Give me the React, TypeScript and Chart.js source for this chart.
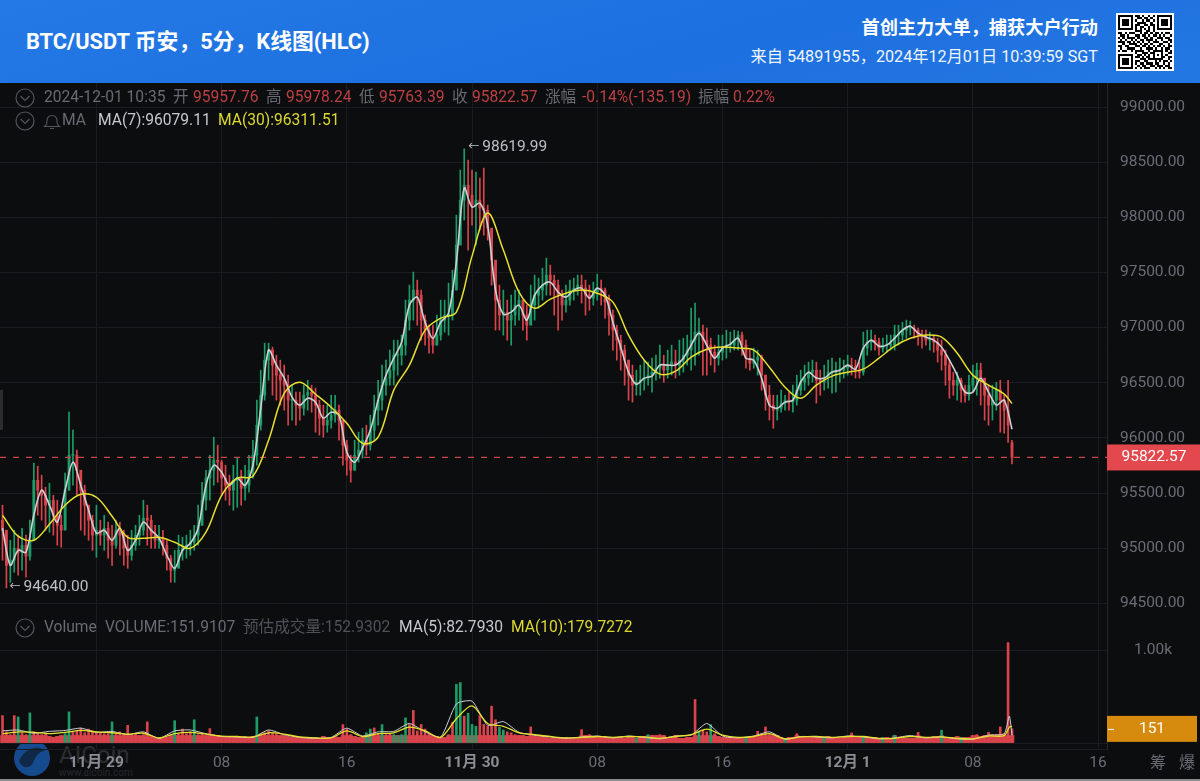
import React, { useEffect, useRef } from "react";
import { Chart, registerables } from "chart.js";

Chart.register(...registerables);

// ---------- data ----------
const firstCandleHour = -6; // hours since 11-29 00:00
const candleStepHours = 0.25;

const candleOpen = [
95254,95163,94845,94891,95000,94963,95027,94927,95072,95616,95526,95480,95390,95435,95299,95208,95163,95526,95843,95843,
95707,95526,95390,95254,95118,95163,95118,95181,95072,95027,95163,95118,95000,94936,95027,95118,95163,95272,95254,95118,
95072,95090,95027,94909,94800,94818,94981,95000,95027,95054,95118,95208,95435,95635,95707,95798,95780,95635,95571,95526,
95616,95635,95544,95571,95707,95843,96115,96387,96705,96796,96660,96569,96523,96478,96342,96342,96297,96269,96387,96415,
96387,96297,96179,96115,96161,96206,96251,96161,95934,95798,95707,95843,95889,95979,95934,96070,96251,96342,96478,96542,
96614,96750,96750,96841,97068,97249,97340,97294,97068,96977,96904,96841,96932,97068,97113,97113,97340,97748,98156,98292,
98201,98111,98156,98083,98065,97902,97612,97249,97113,97140,97068,97113,97204,97249,97113,97022,97204,97294,97340,97385,
97476,97430,97385,97294,97204,97249,97340,97358,97385,97358,97294,97267,97322,97358,97340,97231,97113,96977,96886,96796,
96705,96569,96478,96505,96523,96542,96569,96596,96632,96660,96614,96660,96687,96660,96705,96750,96796,96886,96959,96959,
96886,96841,96777,96723,96777,96814,96841,96841,96886,96932,96841,96723,96678,96705,96732,96569,96387,96297,96251,96269,
96315,96342,96324,96342,96433,96505,96542,96596,96614,96523,96505,96542,96596,96596,96614,96614,96632,96660,96650,96614,
96596,96814,96868,96886,96868,96814,96841,96841,96841,96932,96932,96977,96995,96995,96977,96932,96914,96886,96904,96868,
96796,96750,96660,96523,96478,96523,96433,96387,96478,96542,96614,96542,96387,96297,96342,96433,96342,96251,95957.76];

const candleClose = [
95163,94845,94891,95000,94963,95027,94927,95072,95616,95526,95480,95390,95435,95299,95208,95163,95526,95843,95843,95707,
95526,95390,95254,95118,95163,95118,95181,95072,95027,95163,95118,95000,94936,95027,95118,95163,95272,95254,95118,95072,
95090,95027,94909,94800,94818,94981,95000,95027,95054,95118,95208,95435,95635,95707,95798,95780,95635,95571,95526,95616,
95635,95544,95571,95707,95843,96115,96387,96705,96796,96660,96569,96523,96478,96342,96342,96297,96269,96387,96415,96387,
96297,96179,96115,96161,96206,96251,96161,95934,95798,95707,95843,95889,95979,95934,96070,96251,96342,96478,96542,96614,
96750,96750,96841,97068,97249,97340,97294,97068,96977,96904,96841,96932,97068,97113,97113,97340,97748,98156,98292,98201,
98111,98156,98083,98065,97902,97612,97249,97113,97140,97068,97113,97204,97249,97113,97022,97204,97294,97340,97385,97476,
97430,97385,97294,97204,97249,97340,97358,97385,97358,97294,97267,97322,97358,97340,97231,97113,96977,96886,96796,96705,
96569,96478,96505,96523,96542,96569,96596,96632,96660,96614,96660,96687,96660,96705,96750,96796,96886,96959,96959,96886,
96841,96777,96723,96777,96814,96841,96841,96886,96932,96841,96723,96678,96705,96732,96569,96387,96297,96251,96269,96315,
96342,96324,96342,96433,96505,96542,96596,96614,96523,96505,96542,96596,96596,96614,96614,96632,96660,96650,96614,96596,
96814,96868,96886,96868,96814,96841,96841,96841,96932,96932,96977,96995,96995,96977,96932,96914,96886,96904,96868,96796,
96750,96660,96523,96478,96523,96433,96387,96478,96542,96614,96542,96387,96297,96342,96433,96342,96251,96115,95822.57];

const candleHigh = [
95390,95118,95072,95163,95118,95181,95118,95254,95771,95743,95662,95553,95589,95480,95435,95299,95680,96233,96070,95889,
95644,95571,95344,95299,95390,95254,95299,95236,95208,95254,95236,95163,95118,95163,95208,95299,95435,95390,95299,95208,
95208,95163,95072,94936,94981,95118,95099,95118,95163,95208,95390,95598,95707,95843,96006,95934,95798,95752,95662,95752,
95816,95707,95752,95843,95979,96342,96614,96859,96859,96823,96750,96705,96660,96569,96478,96415,96415,96478,96523,96478,
96451,96342,96297,96297,96387,96387,96297,96115,95979,95843,95979,96052,96088,96115,96206,96387,96523,96660,96705,96796,
96886,96886,96932,97249,97385,97503,97430,97340,97113,97022,97022,97113,97249,97249,97403,97521,98020,98428,98619.99,98519,
98428,98410,98356,98446,98111,97884,97566,97385,97340,97249,97294,97340,97340,97249,97204,97385,97476,97449,97539,97630,
97566,97476,97430,97340,97385,97430,97449,97476,97476,97430,97385,97412,97485,97430,97358,97294,97158,97022,96932,96841,
96705,96660,96614,96660,96705,96687,96723,96750,96841,96750,96796,96841,96796,96886,96904,96932,97176,97222,97086,97022,
96995,96904,96841,96932,96932,96977,96959,96977,96968,96959,96886,96796,96814,96796,96750,96569,96478,96387,96387,96433,
96387,96415,96478,96569,96614,96660,96687,96705,96687,96614,96660,96705,96723,96687,96723,96705,96750,96723,96705,96687,
96959,96977,96977,96932,96904,96904,96932,96932,97022,97022,97049,97068,97058,97022,96995,96977,96977,96959,96932,96904,
96886,96796,96705,96596,96596,96542,96478,96569,96660,96678,96678,96523,96478,96478,96505,96523,96387,96523,95978.24];

const candleLow = [
94891,94640,94691,94782,94755,94800,94737,94891,95163,95299,95254,95163,95145,95118,95027,95009,95208,95526,95571,95480,
95163,95118,95072,94981,94918,95027,94981,94909,94845,95000,94936,94845,94818,94891,94981,95027,95118,95027,95000,95000,
95000,94936,94800,94691,94691,94845,94891,94909,94936,94981,95027,95208,95344,95435,95571,95598,95480,95435,95390,95344,
95371,95390,95435,95508,95635,95752,96070,96342,96523,96387,96342,96297,96251,96115,96161,96115,96161,96206,96251,96233,
96052,96025,96006,96052,96088,96143,95979,95752,95662,95598,95707,95780,95816,95843,95889,95979,96115,96251,96387,96478,
96478,96569,96660,96750,96977,97068,97022,96886,96841,96768,96768,96841,96886,96959,96932,97068,97430,97793,97975,97703,
97929,97748,97884,97838,97793,97385,96977,96977,96932,96886,96841,97022,97068,96977,96886,97068,97068,97176,97249,97294,
97294,97113,96977,97068,97140,97204,97249,97294,97222,97113,97158,97204,97249,97204,97086,96932,96796,96705,96614,96478,
96342,96324,96387,96387,96433,96478,96415,96523,96542,96505,96542,96569,96542,96569,96596,96660,96614,96660,96750,96569,
96569,96660,96596,96660,96705,96723,96777,96796,96796,96750,96632,96614,96632,96569,96433,96251,96161,96088,96161,96233,
96251,96251,96233,96297,96387,96433,96478,96505,96315,96387,96433,96451,96406,96415,96505,96542,96569,96569,96542,96542,
96569,96750,96796,96796,96750,96777,96777,96796,96796,96841,96886,96904,96932,96904,96841,96814,96841,96796,96777,96687,
96614,96478,96360,96387,96342,96324,96324,96342,96415,96387,96297,96161,96115,96161,96251,96052,96043,95960,95763.39];

const volumeBars = [
295,120,90,295,280,110,90,324,120,100,90,100,70,60,70,80,100,335,120,130,
160,110,150,130,110,110,100,100,227,100,120,100,190,90,100,80,90,227,70,60,
50,50,60,80,240,100,150,100,120,250,90,100,80,155,90,80,70,60,70,60,
70,60,70,60,70,280,100,110,130,110,100,80,80,70,60,60,50,60,60,50,
60,50,70,60,50,70,60,198,150,90,70,60,60,110,150,162,100,198,90,100,
90,80,90,270,200,350,130,200,150,100,80,70,60,60,90,223,630,650,288,320,
200,180,295,200,180,396,250,170,140,120,110,90,80,80,70,173,90,70,70,60,
50,60,50,50,60,50,50,50,144,80,90,70,60,60,70,50,50,60,60,50,
70,60,50,60,70,90,80,80,90,80,60,60,80,50,50,60,60,468,130,140,
120,198,100,70,60,60,60,50,50,60,60,60,70,126,100,173,90,80,80,60,
50,60,60,100,70,70,60,60,60,60,60,70,60,60,50,60,60,108,70,70,
60,60,50,60,50,60,60,50,83,60,60,50,50,50,115,60,60,60,70,70,
137,60,60,60,70,60,60,60,80,90,70,80,115,90,90,173,100,1080,151.91];

const greenVolumeBars = [4,7,16,17,28,44,49,65,93,94,97,100,101,102,103,116,117,119,120,121,127,128,162,165,178,181,190,200,210,220,225,228,240,245];
const volumeFloorLevel = 80; // volume up to which bars read as a continuous band

const ma7StepHours = 0.5;
const ma7Values = [
95181,94845,94981,94963,95299,95526,95390,95236,95526,95780,95571,95344,95136,95163,95072,95181,94981,95072,95236,95163,
95090,94936,94818,94981,95045,95181,95571,95752,95689,95571,95635,95571,95752,96269,96796,96660,96542,96369,96297,96360,
96324,96179,96233,96206,95870,95780,95907,96070,96342,96569,96723,96868,97204,97276,97049,96904,97049,97131,97594,98265,
98092,98129,97929,97340,97122,97140,97204,97068,97294,97385,97412,97322,97276,97340,97358,97267,97358,97294,97049,96823,
96596,96487,96542,96560,96660,96660,96660,96723,96841,96950,96841,96723,96814,96850,96904,96723,96705,96542,96297,96269,
96324,96342,96505,96596,96542,96542,96596,96614,96660,96623,96814,96886,96832,96841,96904,96977,97013,96950,96914,96886,
96823,96705,96569,96415,96415,96542,96415,96297,96342,96079.11];

const ma30StepHours = 1;
const ma30Values = [
95299,95109,95072,95217,95390,95489,95462,95290,95099,95090,95099,95054,94999,95145,95480,95635,95653,95979,96406,96505,
96396,96278,96133,95952,96006,96433,96660,96977,97086,97140,97648,98038,97703,97322,97176,97258,97312,97340,97312,97231,
96932,96705,96578,96605,96732,96804,96823,96814,96796,96641,96460,96360,96478,96560,96596,96623,96723,96832,96904,96932,
96914,96768,96569,96478,96397];
const ma30LastHour = 58.5;
const ma30LastValue = 96311.51;

const volMaStepHours = 1;
const volMa10Values = [
100,120,115,100,115,135,120,110,95,105,55,100,115,95,75,70,65,110,95,65,
55,55,130,70,100,110,170,130,60,260,400,210,180,110,90,70,55,60,70,60,
70,65,50,70,90,150,85,60,70,100,45,65,70,60,70,70,50,50,70,60,
65,50,45,75,80];
const volMa5Values = [
130,140,105,125,135,160,115,125,90,120,50,130,140,100,70,65,60,140,90,60,
50,60,160,75,120,125,210,120,65,420,450,190,230,115,85,65,50,65,75,55,
75,60,45,75,85,210,75,55,75,120,40,70,65,55,75,65,45,55,80,55,
65,45,40,85,100];
const volMaTailHours = [58.33, 58.5];
const volMa10Tail = [170, 179.73];
const volMa5Tail = [290, 82.79];

const lastPrice = 95822.57;
const lastVolume = 151.91;
const priceTickValues = [94500, 95000, 95500, 96000, 96500, 97000, 97500, 98000, 98500, 99000];
const dateTickLabels: Record<number, string> = { 0: "11月 29", 24: "11月 30", 48: "12月 1" };
const timeTickHours = [0, 8, 16, 24, 32, 40, 48, 56, 64];
const timeTickLabels = ["11月 29", "08", "16", "11月 30", "08", "16", "12月 1", "08", "16"];
const qrRows = [
"1111111011010010101111111",
"1000001001101101001000001",
"1011101010010110101011101",
"1011101001111001001011101",
"1011101011001101101011101",
"1000001010110010101000001",
"1111111010101010101111111",
"0000000011100110100000000",
"1101011100101101011010110",
"0110100011011010110101001",
"1010111101001101001110110",
"0101001010110111010010011",
"1110110101010010111001101",
"0010011110101101000110010",
"1101100011011010101101011",
"0100111100100111010010110",
"1011001011110010111110101",
"0000000010011101100010011",
"1111111001101010101010100",
"1000001011010110100011011",
"1011101000111011111110010",
"1011101011001100010101101",
"1011101010110111011001010",
"1000001001011001101110110",
"1111111010101110010101011"];

// ---------- styling ----------
const BG = "#0c0d0f";
const GRID = "#1b1c1f";
const AXIS_TEXT = "#6a6d75";
const UP = "#1d9c68";
const DOWN = "#d9434b";
const RED_TEXT = "#bd4045";
const YELLOW = "#e6e02f";
const WHITE_LINE = "#cfd0d5";
const XMIN = -6.16;
const XMAX = 64.57;
const FONT = "Roboto, 'Noto Sans CJK SC', sans-serif";

const candleHour = (i: number) => firstCandleHour + i * candleStepHours;

const priceTagPlugin = {
  id: "priceTags",
  afterDatasetsDraw(chart: any) {
    const { ctx, scales } = chart;
    const x = scales.x, y = scales.y;
    ctx.save();
    ctx.textBaseline = "middle";
    ctx.textAlign = "left";
    ctx.fillStyle = "#bfc0c4";
    const hiIdx = candleHigh.indexOf(Math.max(...candleHigh));
    const loIdx = candleLow.indexOf(Math.min(...candleLow));
    const tag = (idx: number, value: number, dy: number, arrowX: number) => {
      const px = x.getPixelForValue(candleHour(idx));
      const py = y.getPixelForValue(value) + dy;
      ctx.font = `11px ${FONT}`;
      ctx.fillText("←", px + arrowX, py);
      ctx.font = `15.5px ${FONT}`;
      ctx.fillText(value.toFixed(2), px + arrowX + 14, py);
    };
    tag(hiIdx, candleHigh[hiIdx], -2, 4);
    tag(loIdx, candleLow[loIdx], -1, 3);
    const py = y.getPixelForValue(lastPrice);
    ctx.fillStyle = "#e2484d";
    ctx.fillRect(1107, py - 13, 93, 26);
    ctx.fillStyle = "#ffffff";
    ctx.textAlign = "center";
    ctx.font = `15.5px ${FONT}`;
    ctx.fillText(lastPrice.toFixed(2), 1154, py);
    ctx.restore();
  },
};

const volumeTagPlugin = {
  id: "volumeTag",
  afterDatasetsDraw(chart: any) {
    const { ctx, scales } = chart;
    const py = scales.y.getPixelForValue(lastVolume);
    ctx.save();
    ctx.fillStyle = "#d68a0e";
    ctx.fillRect(1107, py - 13, 90, 26);
    ctx.fillStyle = "#ffffff";
    ctx.font = `15.5px ${FONT}`;
    ctx.textBaseline = "middle";
    ctx.textAlign = "center";
    ctx.fillText(String(Math.floor(lastVolume)), 1152, py);
    ctx.fillRect(1108, py, 6, 1);
    ctx.restore();
  },
};

function xScale(showLabels: boolean) {
  return {
    type: "linear",
    min: XMIN,
    max: XMAX,
    offset: false,
    afterFit(a: any) { a.height = showLabels ? 32 : 0; a.paddingLeft = 0; a.paddingRight = 0; },
    afterBuildTicks(a: any) { a.ticks = timeTickHours.map((value) => ({ value })); },
    grid: { color: GRID, lineWidth: 1, offset: false, drawTicks: false },
    border: { color: GRID },
    ticks: {
      display: showLabels,
      autoSkip: false,
      maxRotation: 0,
      padding: 5,
      color: (c: any) => (dateTickLabels[c.tick?.value] ? "#8b8d94" : AXIS_TEXT),
      font: (c: any) => ({ family: FONT, size: 15.5, weight: dateTickLabels[c.tick?.value] ? "bold" : "normal" }),
      callback: (v: number) => timeTickLabels[timeTickHours.indexOf(v)] ?? "",
    },
  };
}

function yGrid(tickLength: number) {
  return { color: GRID, drawTicks: true, tickLength, tickColor: "transparent" };
}

function useChart(ref: React.RefObject<HTMLCanvasElement | null>, build: () => any) {
  useEffect(() => {
    if (!ref.current) return;
    const chart = new Chart(ref.current, build());
    return () => chart.destroy();
  }, []);
}

function priceConfig() {
  const colors = candleClose.map((c, i) => (c >= candleOpen[i] ? UP : DOWN));
  return {
    type: "bar",
    data: {
      datasets: [
        {
          type: "line", order: 0, label: "MA(30)", borderColor: YELLOW, borderWidth: 1.5, pointRadius: 0, tension: 0.35,
          data: [...ma30Values.map((y, i) => ({ x: firstCandleHour + i * ma30StepHours, y })), { x: ma30LastHour, y: ma30LastValue }],
        },
        {
          type: "line", order: 1, label: "MA(7)", borderColor: WHITE_LINE, borderWidth: 1.6, pointRadius: 0, tension: 0.3,
          data: ma7Values.map((y, i) => ({ x: firstCandleHour + i * ma7StepHours, y })),
        },
        {
          type: "line", order: 2, label: "last", borderColor: "#c8464c", borderWidth: 1.2, borderDash: [6, 7], pointRadius: 0,
          data: [{ x: XMIN, y: lastPrice }, { x: XMAX, y: lastPrice }],
        },
        {
          type: "bar", order: 3, label: "body", backgroundColor: colors, barThickness: 2.2, minBarLength: 1, grouped: false,
          data: candleOpen.map((o, i) => ({ x: candleHour(i), y: [o, candleClose[i]] })),
        },
        {
          type: "bar", order: 4, label: "wick", backgroundColor: colors, barThickness: 1, grouped: false,
          data: candleLow.map((l, i) => ({ x: candleHour(i), y: [l, candleHigh[i]] })),
        },
      ],
    },
    options: {
      responsive: false,
      animation: false,
      events: [],
      layout: { padding: 0 },
      plugins: { legend: { display: false }, tooltip: { enabled: false } },
      scales: {
        x: xScale(false),
        y: {
          position: "right",
          min: 94412.5,
          max: 99217.6,
          afterFit(a: any) { a.width = 93; a.paddingTop = 0; a.paddingBottom = 0; },
          afterBuildTicks(a: any) { a.ticks = priceTickValues.map((value) => ({ value })); },
          grid: yGrid(13),
          border: { color: "#25262a" },
          ticks: {
            padding: 0,
            color: AXIS_TEXT,
            font: { family: FONT, size: 15.5 },
            callback: (v: number) => v.toFixed(2),
          },
        },
      },
    },
    plugins: [priceTagPlugin],
  };
}

function volumeConfig() {
  const colors = volumeBars.map((_, i) => (greenVolumeBars.includes(i) ? UP : DOWN));
  const maPoints = (vals: number[], tail: number[]) => [
    ...vals.map((y, i) => ({ x: firstCandleHour + i * volMaStepHours, y })),
    ...tail.map((y, i) => ({ x: volMaTailHours[i], y })),
  ];
  return {
    type: "bar",
    data: {
      datasets: [
        { type: "line", order: 0, label: "MA(10)", borderColor: YELLOW, borderWidth: 1.3, pointRadius: 0, tension: 0.3, data: maPoints(volMa10Values, volMa10Tail) },
        { type: "line", order: 1, label: "MA(5)", borderColor: WHITE_LINE, borderWidth: 1, pointRadius: 0, tension: 0.2, data: maPoints(volMa5Values, volMa5Tail) },
        {
          type: "bar", order: 2, label: "VOLUME", backgroundColor: colors, barThickness: 2, minBarLength: 1, grouped: false,
          data: volumeBars.map((v, i) => ({ x: candleHour(i), y: v })),
        },
        {
          type: "bar", order: 3, label: "VOLUME band", backgroundColor: DOWN, barThickness: 3.95, grouped: false,
          data: volumeBars.map((v, i) => ({ x: candleHour(i), y: Math.min(v, volumeFloorLevel) })),
        },
      ],
    },
    options: {
      responsive: false,
      animation: false,
      events: [],
      layout: { padding: 0 },
      plugins: { legend: { display: false }, tooltip: { enabled: false } },
      scales: {
        x: xScale(true),
        y: {
          position: "right",
          min: -64.5,
          max: 1398,
          afterFit(a: any) { a.width = 93; a.paddingTop = 0; a.paddingBottom = 0; },
          afterBuildTicks(a: any) { a.ticks = [{ value: 0 }, { value: 1000 }]; },
          grid: yGrid(27),
          border: { color: "#25262a" },
          ticks: {
            padding: 0,
            color: AXIS_TEXT,
            font: { family: FONT, size: 15.5 },
            callback: (v: number) => (v === 1000 ? "1.00k" : ""),
          },
        },
      },
    },
    plugins: [volumeTagPlugin],
  };
}

// ---------- small HTML pieces ----------
function T({ x, y, c, size = 15.6, w, children, right }: any) {
  const pos: any = right !== undefined ? { right } : { left: x };
  return (
    <span style={{ position: "absolute", top: y, ...pos, transform: "translateY(-50%)", color: c, fontSize: size, fontWeight: w || 400, whiteSpace: "nowrap", lineHeight: 1, fontFamily: "Roboto, 'Noto Sans CJK SC', sans-serif" }}>
      {children}
    </span>
  );
}

function Chevron({ y }: { y: number }) {
  return (
    <svg style={{ position: "absolute", left: 15, top: y - 10 }} width="20" height="20" viewBox="0 0 20 20" fill="none" stroke="#54565c" strokeWidth="1.2">
      <circle cx="10" cy="10" r="9" />
      <path d="M5.5 8 L10 12.5 L14.5 8" />
    </svg>
  );
}

function Qr() {
  return (
    <svg style={{ position: "absolute", left: 1116, top: 13 }} width="58" height="58" viewBox="-1 -1 27 27" shapeRendering="crispEdges">
      <rect x="-1" y="-1" width="27" height="27" fill="#fff" />
      {qrRows.map((row, r) =>
        row.split("").map((cell, col) => (cell === "1" ? <rect key={r + "-" + col} x={col} y={r} width="1" height="1" fill="#000" /> : null))
      )}
    </svg>
  );
}

export default function App() {
  const priceRef = useRef<HTMLCanvasElement>(null);
  const volRef = useRef<HTMLCanvasElement>(null);
  useChart(priceRef, priceConfig);
  useChart(volRef, volumeConfig);
  const grey = "#686b73";
  const dim = "#4f5258";
  return (
    <div style={{ position: "fixed", left: 0, top: 0, width: 1200, height: 781, overflow: "hidden", background: BG }}>
      {/* watermark sits under the canvases */}
      <svg style={{ position: "absolute", left: 13, top: 739 }} width="38" height="38" viewBox="0 0 38 38">
        <circle cx="19" cy="19" r="18" fill="#154a8f" />
        <path d="M6 22 C12 8 26 6 32 12 C26 12 22 18 20 24 C16 30 9 30 6 22Z" fill="#0c0d0f" opacity="0.55" />
      </svg>
      <T x={59} y={755} c="#2c2e33" size={24}>AICoin</T>
      <T x={59} y={773} c="#26282c" size={10}>www.aicoin.com</T>
      <div style={{ position: "absolute", left: 0, top: 390, width: 3, height: 40, background: "#2b2c30" }} />

      <canvas ref={priceRef} width={1200} height={530} style={{ position: "absolute", left: 0, top: 83, width: 1200, height: 530, display: "block" }} />
      <canvas ref={volRef} width={1200} height={168} style={{ position: "absolute", left: 0, top: 613, width: 1200, height: 168, display: "block" }} />

      {/* header */}
      <div style={{ position: "absolute", left: 0, top: 0, width: 1200, height: 83, background: "linear-gradient(165deg,#2479e6 0%,#1d70df 60%,#2478e2 100%)" }}>
        <T x={26} y={42} c="#fff" size={21.8} w={700}>BTC/USDT 币安，5分，K线图(HLC)</T>
        <T right={102} y={28} c="#fff" size={18.2} w={700}>首创主力大单，捕获大户行动</T>
        <T right={102} y={57} c="#f0f5ff" size={16.2}>来自 54891955，2024年12月01日 10:39:59 SGT</T>
        <Qr />
      </div>

      {/* legend rows */}
      <Chevron y={98} />
      <T x={44} y={98} c={grey}>2024-12-01 10:35</T>
      <T x={173} y={98} c={grey}>开</T><T x={193} y={98} c={RED_TEXT}>95957.76</T>
      <T x={266} y={98} c={grey}>高</T><T x={286} y={98} c={RED_TEXT}>95978.24</T>
      <T x={359} y={98} c={grey}>低</T><T x={379} y={98} c={RED_TEXT}>95763.39</T>
      <T x={452} y={98} c={grey}>收</T><T x={472} y={98} c={RED_TEXT}>95822.57</T>
      <T x={545} y={98} c={grey}>涨幅</T><T x={582} y={98} c={RED_TEXT}>-0.14%(-135.19)</T>
      <T x={698} y={98} c={grey}>振幅</T><T x={733} y={98} c={RED_TEXT}>0.22%</T>

      <Chevron y={121} />
      <svg style={{ position: "absolute", left: 43, top: 113 }} width="18" height="18" viewBox="0 0 18 18" fill="none" stroke="#54565c" strokeWidth="1.1">
        <path d="M1.5 13.5 H16.5 C14 12 14 9 14 7.5 C14 4.5 12 2.5 9 2.5 C6 2.5 4 4.5 4 7.5 C4 9 4 12 1.5 13.5Z M7 15.5 H11" />
      </svg>
      <T x={62} y={121} c={grey}>MA</T>
      <T x={98} y={121} c="#c7c8cc">MA(7):96079.11</T>
      <T x={218} y={121} c="#dcd92e">MA(30):96311.51</T>

      <Chevron y={628} />
      <T x={44} y={628} c={grey}>Volume</T>
      <T x={105} y={628} c={grey}>VOLUME:151.9107</T>
      <T x={243} y={628} c={dim}>预估成交量:152.9302</T>
      <T x={399} y={628} c="#c7c8cc">MA(5):82.7930</T>
      <T x={511} y={628} c="#dcd92e">MA(10):179.7272</T>

      <T x={1150} y={763} c={grey} size={16}>筹</T>
      <T x={1179} y={763} c={grey} size={16}>爆</T>
      <div style={{ position: "absolute", left: 0, top: 779, width: 1200, height: 2, background: "#8a8b8d" }} />
    </div>
  );
}
